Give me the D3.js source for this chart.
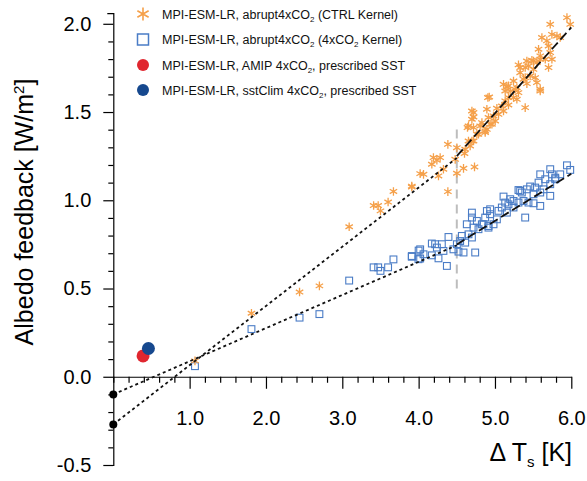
<!DOCTYPE html>
<html>
<head>
<meta charset="utf-8">
<script src="https://cdn.jsdelivr.net/npm/d3@7"></script>
<style>
  html, body { margin: 0; padding: 0; background: #fff; }
  svg { display: block; font-family: "Liberation Sans", Arial, Helvetica, sans-serif; }
</style>
</head>
<body>
<svg id="chart" width="587" height="481"></svg>
<script>
// ---------------- DATA ----------------
// abrupt4xCO2, CTRL kernel  [dTs (K), albedo feedback (W/m2)]
const ctrlKernel = [
  [1.07,0.09],[1.81,0.36],[2.44,0.48],[2.70,0.515],[3.09,0.85],[3.41,0.97],[3.47,0.97],[3.50,0.94],
  [3.60,0.99],[3.67,1.05],[3.91,1.08],
  [4.907,1.582],[4.698,1.506],[4.719,1.472],[4.894,1.516],[4.915,1.469],[4.640,1.412],[4.719,1.412],
  [4.829,1.440],[4.960,1.431],[4.872,1.393],[4.784,1.374],[4.698,1.336],[4.675,1.308],[4.610,1.289],
  [4.601,1.265],[4.383,1.317],[4.501,1.298],[4.479,1.232],[4.194,1.242],[4.282,1.242],[4.239,1.227],
  [4.173,1.204],[4.588,1.181],[4.732,1.189],[4.501,1.153],[4.325,1.176],[4.020,1.151],[4.064,1.147],
  [4.260,1.138],[3.911,1.075],[4.383,1.049],
  [5.571,1.856],[5.593,1.799],[5.484,1.793],[5.418,1.789],[5.308,1.767],[5.396,1.752],[5.505,1.742],
  [5.330,1.723],[5.461,1.704],[5.373,1.686],[5.527,1.695],[5.418,1.661],[5.549,1.667],[5.593,1.619],
  [5.112,1.657],[5.157,1.642],[5.134,1.619],[5.200,1.619],[5.265,1.629],[5.308,1.610],[5.243,1.582],
  [5.287,1.572],[5.177,1.582],[5.134,1.563],[4.925,1.585],[5.091,1.534],[5.177,1.540],[5.396,1.525],
  [5.025,1.521],[5.112,1.506],[5.047,1.487],[4.981,1.478],[4.719,1.497],[5.003,1.449],[4.937,1.431],
  [4.698,1.459],[4.894,1.402],[4.653,1.421],[4.806,1.421],[4.872,1.384],[4.763,1.374],[4.653,1.336],
  [4.719,1.336],
  [5.943,2.035],[5.986,1.997],[5.724,1.997],[5.746,1.940],[5.812,1.931],[5.615,1.922],[5.680,1.903],
  [5.855,1.922],[5.702,1.874],[5.593,1.818],[5.724,1.837],[5.659,1.799],[5.746,1.799],[5.505,1.789],
  [5.440,1.761],[5.549,1.780],[5.702,1.752],[5.330,1.752],[5.396,1.695],[5.243,1.676],[5.177,1.648],
  [5.287,1.638],[5.593,1.629]
];
// abrupt4xCO2, 4xCO2 kernel
const co2Kernel = [
  [1.07,0.06],[1.81,0.27],[2.44,0.335],[2.70,0.355],[3.09,0.545],[3.41,0.62],[3.47,0.62],[3.50,0.60],
  [3.60,0.62],[3.67,0.665],[3.91,0.68],[4.00,0.715],[4.02,0.67],
  [4.698,0.930],[4.698,0.902],[4.894,0.939],[4.763,0.883],[4.631,0.864],[4.828,0.864],[4.915,0.854],
  [4.719,0.845],[4.784,0.836],[4.653,0.807],[4.566,0.798],[4.698,0.789],[4.544,0.769],[4.610,0.760],
  [4.391,0.792],[4.501,0.751],[4.173,0.755],[4.216,0.751],[4.304,0.751],[4.239,0.732],[4.020,0.722],
  [4.456,0.722],[4.325,0.713],[4.522,0.709],[4.588,0.704],[4.741,0.704],[4.064,0.694],[4.173,0.688],
  [3.911,0.684],[3.998,0.666],[4.260,0.671],[4.370,0.628],
  [5.943,1.198],[5.986,1.172],[5.724,1.176],[5.746,1.147],[5.855,1.147],[5.593,1.147],[5.659,1.119],
  [5.790,1.119],[5.571,1.100],[5.724,1.091],[5.461,1.078],[5.527,1.072],[5.636,1.062],[5.418,1.062],
  [5.308,1.058],[5.352,1.044],[5.593,1.044],[5.505,1.034],[5.724,1.025],[5.112,1.021],[5.200,1.006],
  [5.243,0.996],[5.374,0.996],[5.308,0.987],[5.134,0.987],[5.439,0.987],[5.505,0.983],[5.177,0.977],
  [5.090,0.959],[5.243,0.959],[4.937,0.949],[5.046,0.940],[5.156,0.930],[4.937,0.921],[5.396,0.902],
  [4.872,0.902],[5.025,0.892],[4.850,0.864],[4.981,0.864],[4.915,0.845],[5.593,0.968],[5.330,1.053],
  [5.790,1.128]
];
const amipPoint = [[0.39, 0.118]];
const sstClimPoint = [[0.46, 0.16]];
const interceptPoints = [[0, -0.10], [0, -0.27]];

// regression segments
const ctrlFitEarly = [[0, -0.27], [4.5, 1.24]];
const ctrlFitLate  = [[4.5, 1.25], [6.0, 1.98]];
const co2FitEarly  = [[0, -0.10], [4.5, 0.745]];
const co2FitLate   = [[4.5, 0.75], [6.0, 1.15]];
const splitLine    = [[4.5, 0.50], [4.5, 1.42]];

const xMajorTicks = [1, 2, 3, 4, 5, 6];
const xTickLabels = ["1.0", "2.0", "3.0", "4.0", "5.0", "6.0"];
const yMajorTicks = [-0.5, 0, 0.5, 1.0, 1.5, 2.0];
const yTickLabels = ["-0.5", "0.0", "0.5", "1.0", "1.5", "2.0"];

const legendLabels = [
  ["MPI-ESM-LR, abrupt4xCO", "2", " (CTRL Kernel)"],
  ["MPI-ESM-LR, abrupt4xCO", "2", " (4xCO", "2", " Kernel)"],
  ["MPI-ESM-LR, AMIP 4xCO", "2", ", prescribed SST"],
  ["MPI-ESM-LR, sstClim 4xCO", "2", ", prescribed SST"]
];

// ---------------- STYLE ----------------
const orange = "#f5a04a";
const blueSq = "#4a7cc6";
const red = "#e0262f";
const navy = "#16488e";

const svg = d3.select("#chart");
const x = d3.scaleLinear().domain([0, 6]).range([113.3, 571.3]);
const y = d3.scaleLinear().domain([-0.5, 2.06]).range([465, 13.2]);

// ---------------- AXES ----------------
const yMinor = d3.range(-5, 21).map(d => d / 10).filter(v => !yMajorTicks.some(m => Math.abs(m - v) < 1e-6));
const xMinor = d3.range(0, 31).map(d => d / 5).filter(v => !xMajorTicks.some(m => Math.abs(m - v) < 1e-6));

const axisFont = 20;
// y axis
svg.append("g").attr("transform", `translate(${x(0)},0)`)
  .call(d3.axisLeft(y).tickValues(yMinor).tickSize(5).tickSizeOuter(6).tickFormat(""))
  .call(g => g.selectAll("path,line").attr("stroke", "#000").attr("stroke-width", 1.2));
svg.append("g").attr("transform", `translate(${x(0)},0)`)
  .call(d3.axisLeft(y).tickValues(yMajorTicks).tickSize(10).tickSizeOuter(0).tickPadding(12)
    .tickFormat((d, i) => yTickLabels[i]))
  .call(g => g.select(".domain").remove())
  .call(g => g.selectAll("line").attr("stroke", "#000").attr("stroke-width", 1.2))
  .call(g => g.selectAll("text").attr("font-size", axisFont).attr("fill", "#000")
    .attr("font-family", "Liberation Sans, Arial, sans-serif"));

// x axis at y = 0
svg.append("g").attr("transform", `translate(0,${y(0)})`)
  .call(d3.axisBottom(x).tickValues(xMinor).tickSize(6).tickSizeOuter(0).tickFormat(""))
  .call(g => g.selectAll("path,line").attr("stroke", "#000").attr("stroke-width", 1.2));
svg.append("g").attr("transform", `translate(0,${y(0)})`)
  .call(d3.axisBottom(x).tickValues(xMajorTicks).tickSize(12).tickSizeOuter(0).tickPadding(22)
    .tickFormat((d, i) => xTickLabels[i]))
  .call(g => g.select(".domain").remove())
  .call(g => g.selectAll("line").attr("stroke", "#000").attr("stroke-width", 1.2))
  .call(g => g.selectAll("text").attr("font-size", axisFont).attr("fill", "#000")
    .attr("font-family", "Liberation Sans, Arial, sans-serif"));

// axis titles
const yTitle = svg.append("text")
  .attr("transform", "translate(33,212) rotate(-90)")
  .attr("text-anchor", "middle").attr("font-size", 25).attr("fill", "#000");
yTitle.append("tspan").text("Albedo feedback [W/m");
yTitle.append("tspan").attr("dy", -9).attr("font-size", 15).text("2");
yTitle.append("tspan").attr("dy", 9).text("]");

const xTitle = svg.append("text")
  .attr("x", 572).attr("y", 461)
  .attr("text-anchor", "end").attr("font-size", 25).attr("fill", "#000");
xTitle.append("tspan").text("\u0394 T");
xTitle.append("tspan").attr("dy", 6).attr("font-size", 15).text("s");
xTitle.append("tspan").attr("dy", -6).text(" [K]");

// ---------------- MARKS ----------------
function starPath(r) {
  const a = Math.PI / 6;
  const dx = r * Math.cos(a), dy = r * Math.sin(a);
  return `M0,${-r}L0,${r}M${-dx},${-dy}L${dx},${dy}M${-dx},${dy}L${dx},${-dy}`;
}

// gray split line
const line = d3.line().x(d => x(d[0])).y(d => y(d[1]));
svg.append("path").datum(splitLine).attr("d", line)
  .attr("stroke", "#bdbdbd").attr("stroke-width", 2).attr("stroke-dasharray", "9,6").attr("fill", "none");

// blue squares
const sq = 6.8;
svg.append("g").selectAll("rect").data(co2Kernel).join("rect")
  .attr("x", d => x(d[0]) - sq / 2).attr("y", d => y(d[1]) - sq / 2)
  .attr("width", sq).attr("height", sq)
  .attr("fill", "none").attr("stroke", blueSq).attr("stroke-width", 1.1);

// orange stars
svg.append("g").selectAll("path").data(ctrlKernel).join("path")
  .attr("transform", d => `translate(${x(d[0])},${y(d[1])})`)
  .attr("d", starPath(4.3))
  .attr("stroke", orange).attr("stroke-width", 1.3).attr("fill", "none");

// fit lines
[[ctrlFitEarly, "3,3"], [co2FitEarly, "3,3"], [ctrlFitLate, "9,4"], [co2FitLate, "9,4"]].forEach(([seg, dash]) => {
  svg.append("path").datum(seg).attr("d", line)
    .attr("stroke", "#111").attr("stroke-width", 1.8).attr("stroke-dasharray", dash).attr("fill", "none");
});

// intercept dots
svg.append("g").selectAll("circle").data(interceptPoints).join("circle")
  .attr("cx", d => x(d[0])).attr("cy", d => y(d[1])).attr("r", 4).attr("fill", "#000");

// prescribed SST circles
svg.append("g").selectAll("circle").data(amipPoint).join("circle")
  .attr("cx", d => x(d[0])).attr("cy", d => y(d[1])).attr("r", 6.5).attr("fill", red);
svg.append("g").selectAll("circle").data(sstClimPoint).join("circle")
  .attr("cx", d => x(d[0])).attr("cy", d => y(d[1])).attr("r", 6.5).attr("fill", navy);

// ---------------- LEGEND ----------------
const legendY = [14, 39.5, 65, 90];
const lg = svg.append("g");
// markers
lg.append("path").attr("transform", `translate(143,${legendY[0]})`).attr("d", starPath(6.5))
  .attr("stroke", orange).attr("stroke-width", 1.6).attr("fill", "none");
lg.append("rect").attr("x", 143 - 5.5).attr("y", legendY[1] - 5.5).attr("width", 11).attr("height", 11)
  .attr("fill", "none").attr("stroke", blueSq).attr("stroke-width", 1.5);
lg.append("circle").attr("cx", 143).attr("cy", legendY[2]).attr("r", 6).attr("fill", red);
lg.append("circle").attr("cx", 143).attr("cy", legendY[3]).attr("r", 6).attr("fill", navy);

legendLabels.forEach((parts, i) => {
  const t = lg.append("text").attr("x", 162).attr("y", legendY[i] + 4.5)
    .attr("font-size", 12.5).attr("fill", "#111");
  parts.forEach((p, j) => {
    const isSub = (j % 2 === 1);
    const ts = t.append("tspan").text(p);
    if (isSub) ts.attr("font-size", 8).attr("dy", 3);
    else if (j > 0) ts.attr("dy", -3);
  });
});
</script>
</body>
</html>
